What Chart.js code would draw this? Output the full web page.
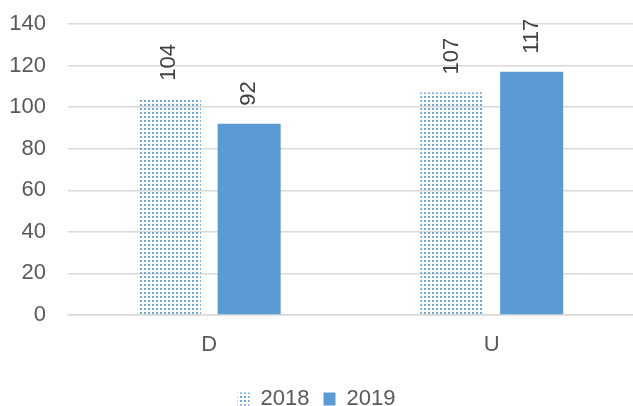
<!DOCTYPE html>
<html>
<head>
<meta charset="utf-8">
<script src="https://cdn.jsdelivr.net/npm/chart.js@4/dist/chart.umd.min.js"></script>
<style>
  html, body { margin: 0; padding: 0; background: #fff; }
  #wrap { width: 633px; height: 406px; }
</style>
</head>
<body>
<div id="wrap"><canvas id="chart" width="633" height="406"></canvas></div>
<script>
// data
const categories = ['D', 'U'];
const seriesNames = ['2018', '2019'];
const values2018 = [104, 107];
const values2019 = [92, 117];
const yTicks = [0, 20, 40, 60, 80, 100, 120, 140];

const BLUE = '#5B9BD5';
const TEXT = '#595959';
const FONT = '"Liberation Sans", Arial, sans-serif';
const FS = 22;

// dotted fill used by the 2018 series
function dotPattern() {
  const t = document.createElement('canvas');
  t.width = 4; t.height = 4;
  const g = t.getContext('2d');
  g.fillStyle = '#6FA8DC';
  g.fillRect(0, 0, 2, 2);
  return document.getElementById('chart').getContext('2d').createPattern(t, 'repeat');
}

// rotated value labels above each bar
const barLabels = {
  id: 'barLabels',
  afterDatasetsDraw(chart) {
    const ctx = chart.ctx;
    ctx.save();
    ctx.fillStyle = '#404040';
    ctx.font = FS + 'px ' + FONT;
    ctx.textAlign = 'left';
    ctx.textBaseline = 'middle';
    chart.data.datasets.forEach((ds, i) => {
      chart.getDatasetMeta(i).data.forEach((bar, j) => {
        ctx.save();
        ctx.translate(bar.x, bar.y - 18);
        ctx.rotate(-Math.PI / 2);
        ctx.fillText(String(ds.data[j]), 0, 0);
        ctx.restore();
      });
    });
    ctx.restore();
  },
};

const pattern = dotPattern();

new Chart(document.getElementById('chart'), {
  type: 'bar',
  data: {
    labels: categories,
    datasets: [
      { label: seriesNames[0], data: values2018, backgroundColor: pattern, borderWidth: 0 },
      { label: seriesNames[1], data: values2019, backgroundColor: BLUE, borderWidth: 0 },
    ],
  },
  options: {
    responsive: false,
    animation: false,
    categoryPercentage: 0.565,
    barPercentage: 0.79,
    layout: { autoPadding: false, padding: { top: 24, left: 0, right: 0, bottom: -14 } },
    plugins: {
      tooltip: { enabled: false },
      legend: {
        position: 'bottom',
        labels: {
          color: TEXT,
          font: { size: FS, family: FONT },
          boxWidth: 12,
          boxHeight: 13,
          padding: 14,
        },
      },
    },
    scales: {
      x: {
        afterFit: a => { a.height = 59; },
        ticks: { color: TEXT, font: { size: FS, family: FONT }, padding: 9 },
        grid: { display: false },
        border: { color: '#D9D9D9', width: 1.5 },
      },
      y: {
        min: 0,
        max: 140,
        afterFit: a => { a.width = 68; a.paddingTop = 0; a.paddingBottom = 0; },
        afterBuildTicks: axis => { axis.ticks = yTicks.map(v => ({ value: v })); },
        ticks: { color: TEXT, font: { size: FS, family: FONT }, padding: 22 },
        grid: { color: '#D9D9D9', lineWidth: 1.5, drawTicks: false },
        border: { display: false },
      },
    },
  },
  plugins: [barLabels],
});
</script>
</body>
</html>
